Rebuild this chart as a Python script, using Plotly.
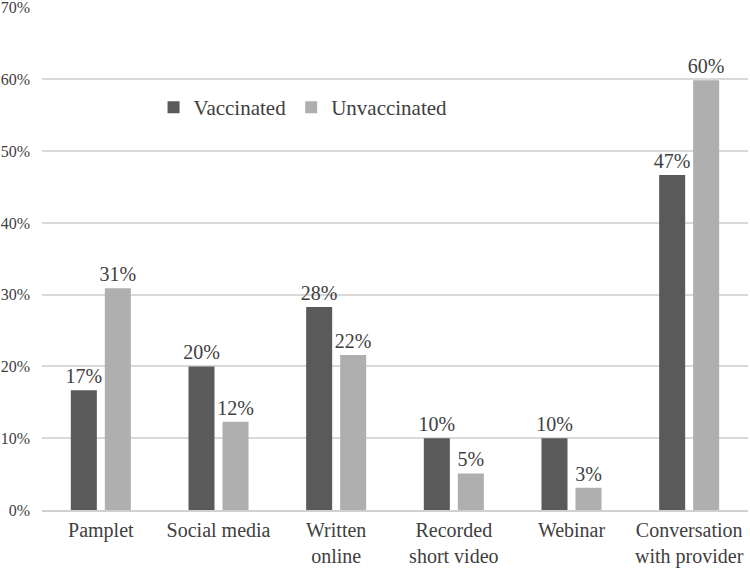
import plotly.graph_objects as go

categories = ["Pamplet", "Social media", "Written<br>online", "Recorded<br>short video", "Webinar", "Conversation<br>with provider"]
vaccinated = [16.7, 20.0, 28.3, 10.0, 10.0, 46.7]
unvaccinated = [30.9, 12.3, 21.6, 5.1, 3.1, 59.9]
y_ticks = [0, 10, 20, 30, 40, 50, 60, 70]
y_tick_labels = ["0%", "10%", "20%", "30%", "40%", "50%", "60%", "70%"]

font_family = "Liberation Serif, Times New Roman, serif"
text_color = "#404040"

fig = go.Figure()
fig.add_trace(go.Bar(
    name="Vaccinated", x=categories, y=vaccinated,
    marker=dict(color="#5a5a5a", line=dict(width=0)),
    texttemplate="%{y:.0f}%", textposition="outside", cliponaxis=False,
    constraintext="none",
    textfont=dict(size=20, color=text_color, family=font_family),
))
fig.add_trace(go.Bar(
    name="Unvaccinated", x=categories, y=unvaccinated,
    marker=dict(color="#afafaf", line=dict(width=0)),
    texttemplate="%{y:.0f}%", textposition="outside", cliponaxis=False,
    constraintext="none",
    textfont=dict(size=20, color=text_color, family=font_family),
))

fig.update_layout(
    width=750, height=570, autosize=False,
    margin=dict(l=42, r=2, t=7, b=60, autoexpand=False),
    paper_bgcolor="white", plot_bgcolor="white",
    barmode="group", bargap=0.422, bargroupgap=0.235,
    font=dict(family=font_family, size=16, color=text_color),
    showlegend=True,
    legend=dict(orientation="h", x=0.158, y=0.80, xanchor="left", yanchor="middle",
                font=dict(size=21, color=text_color), bgcolor="rgba(0,0,0,0)",
                traceorder="normal"),
    yaxis=dict(range=[0, 70.1], tickmode="array", tickvals=y_ticks, ticktext=y_tick_labels,
               showgrid=True, gridcolor="#d9d9d9", gridwidth=1.5,
               zeroline=False, showline=False, ticks="", automargin=False,
               ticklabeloverflow="allow", ticklabelstandoff=11,
               tickfont=dict(size=16, color=text_color, family=font_family)),
    xaxis=dict(showline=True, linecolor="#d0d0d0", linewidth=1.5, ticks="", automargin=False,
               ticklabelstandoff=1, ticklabeloverflow="allow",
               tickfont=dict(size=20, color=text_color, family=font_family)),
)

fig.write_html("out.html", config={"displayModeBar": False},
               post_script="document.body.style.margin='0';")
